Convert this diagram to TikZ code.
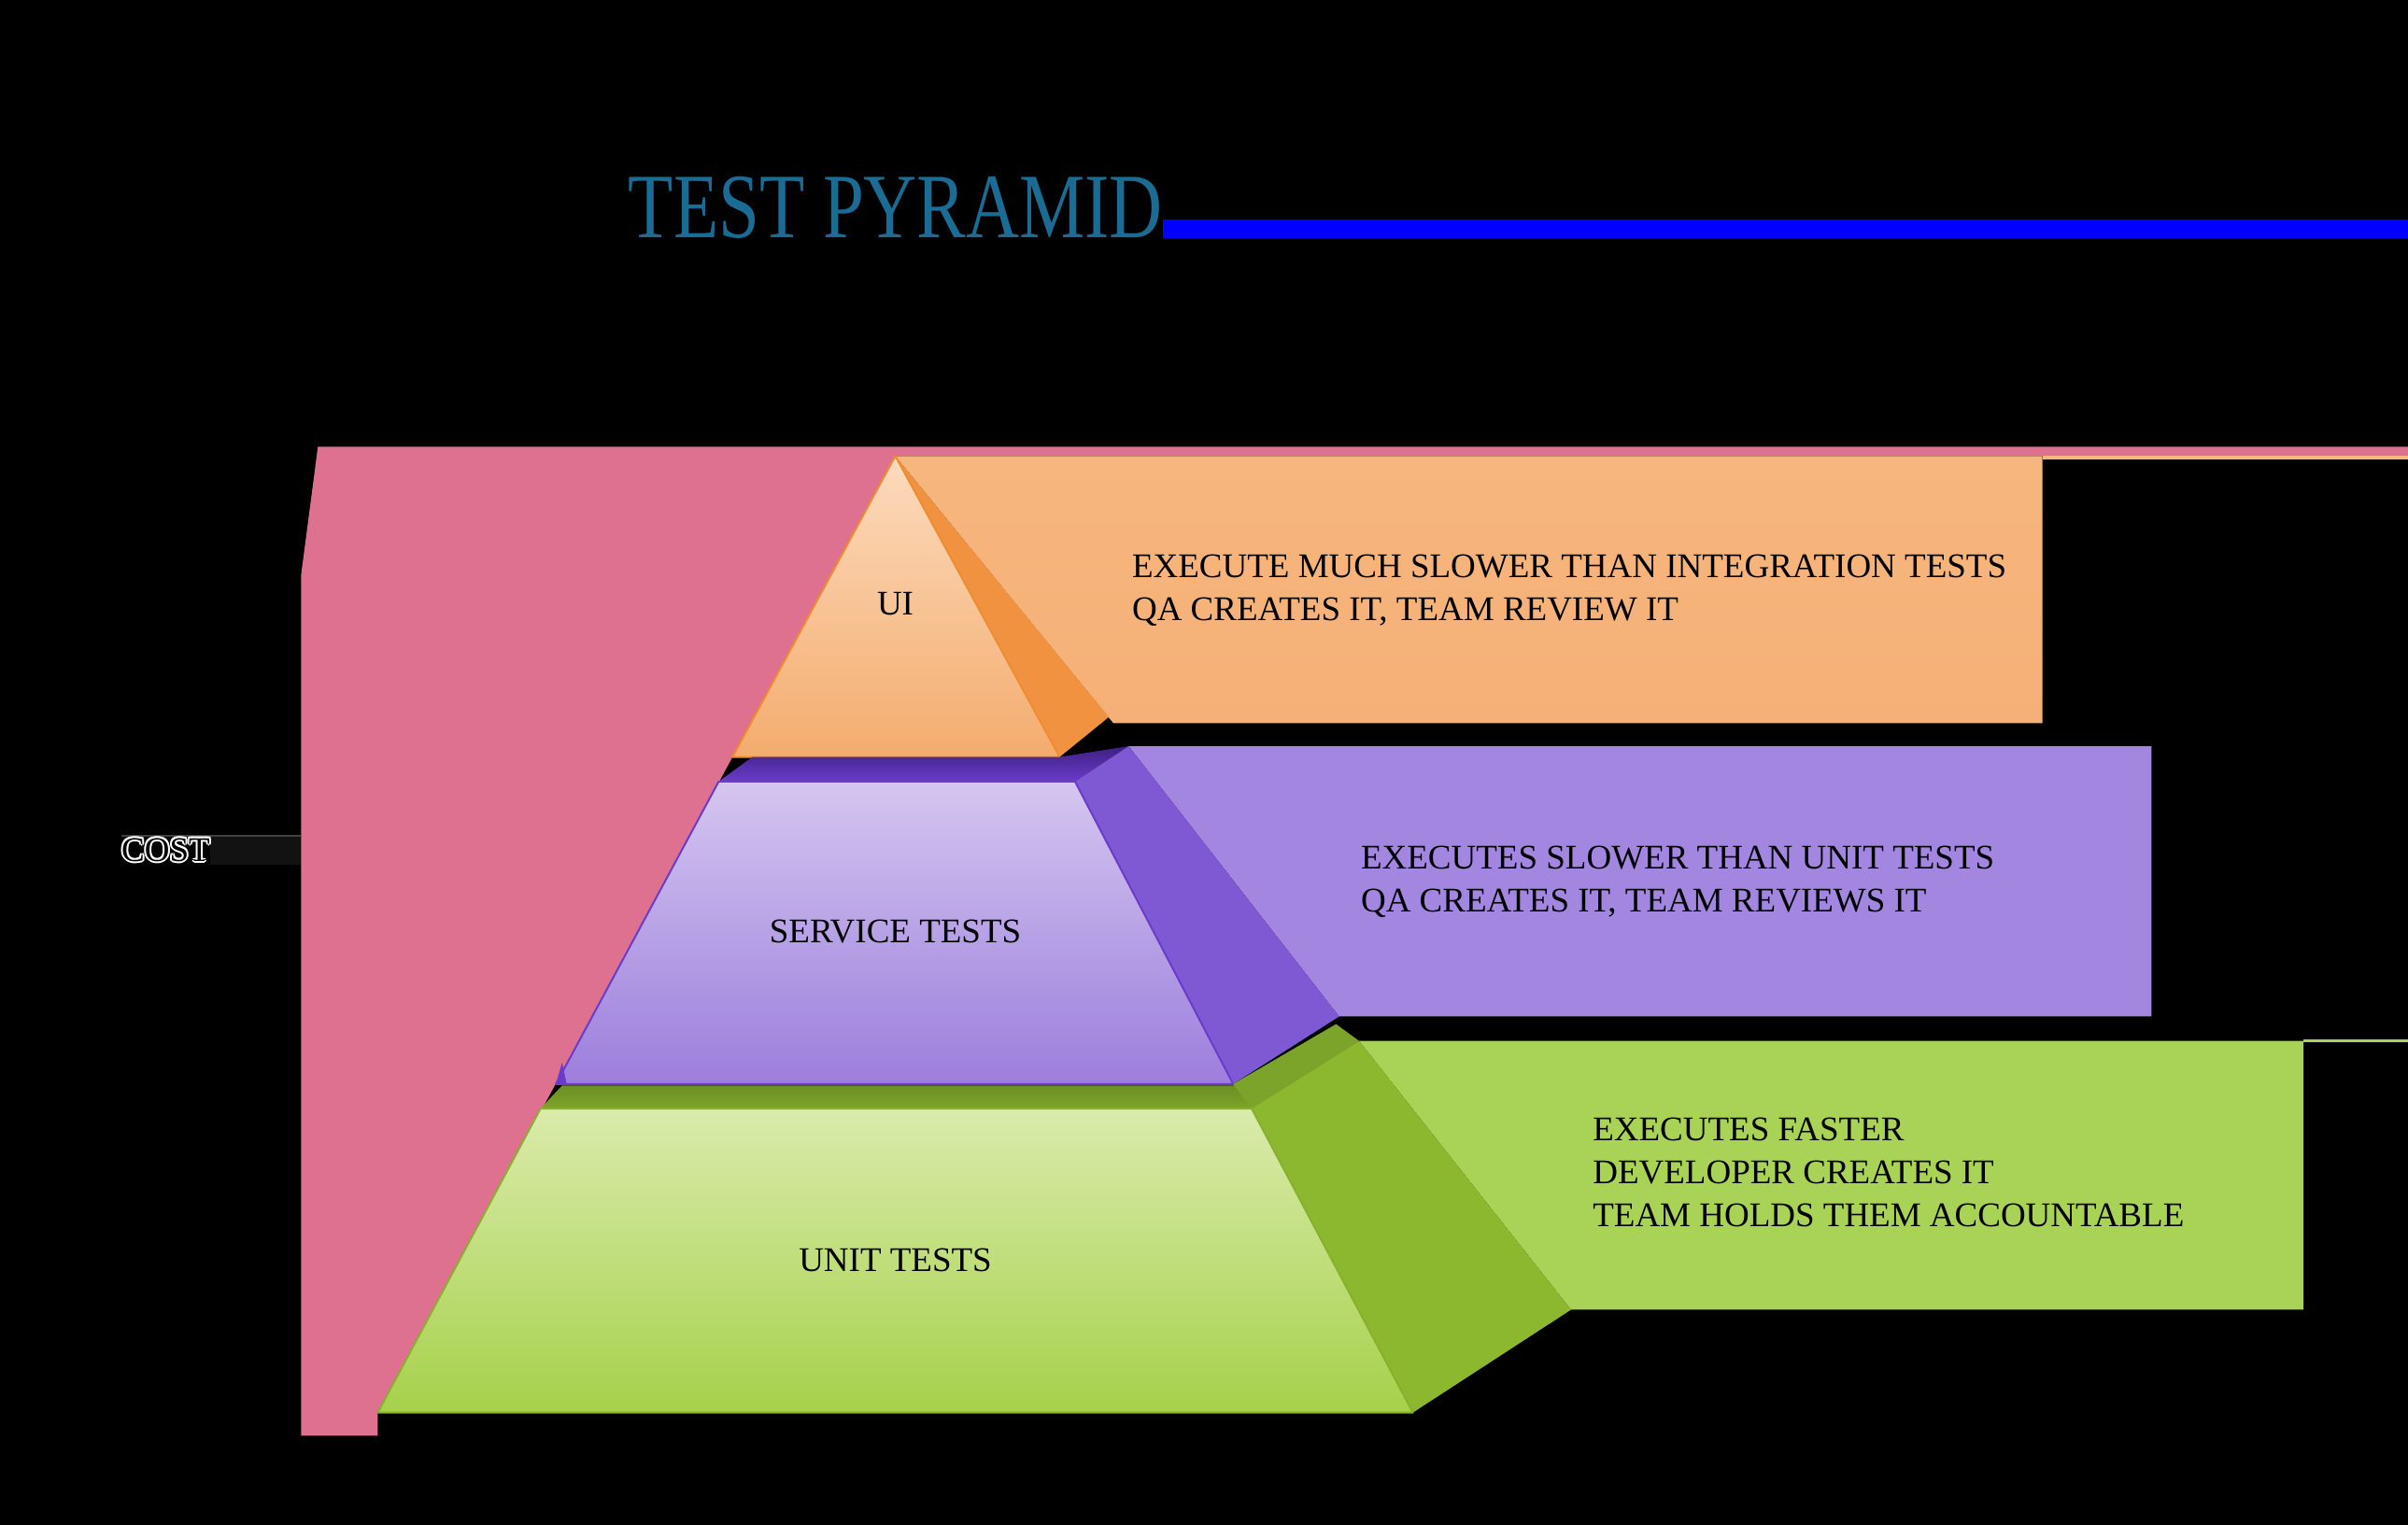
\documentclass[tikz,border=0pt]{standalone}
\usepackage{fontspec}
\setmainfont{Liberation Serif}
\definecolor{bg}{HTML}{000000}
\definecolor{pinkc}{HTML}{DE7090}
\definecolor{titlec}{HTML}{1B6C94}
\definecolor{barc}{HTML}{0000FF}
\definecolor{orbox}{HTML}{F5B077}
\definecolor{orboxt}{HTML}{F6B67E}
\definecolor{orfrontt}{HTML}{FCDBBD}
\definecolor{orfrontb}{HTML}{F4AC6E}
\definecolor{orside}{HTML}{F09240}
\definecolor{orline}{HTML}{F08C30}
\definecolor{pubox}{HTML}{A286E0}
\definecolor{pufrontt}{HTML}{D4C6F0}
\definecolor{pufrontb}{HTML}{9C7EDC}
\definecolor{puside}{HTML}{7F58D3}
\definecolor{putop}{HTML}{6A3BCB}
\definecolor{putopd}{HTML}{3E2080}
\definecolor{grbox}{HTML}{A9D356}
\definecolor{grfrontt}{HTML}{DAEBAC}
\definecolor{grfrontb}{HTML}{A6D14A}
\definecolor{grside}{HTML}{8BB82E}
\definecolor{grtop}{HTML}{7DA42A}
\definecolor{grtopd}{HTML}{4C6716}
\definecolor{grline}{HTML}{88B02E}
\tikzset{
  txt/.style={font=\fontsize{22.5}{27}\selectfont, text=black, inner sep=0pt},
  ltxt/.style={txt, anchor=base west},
  halo/.style={txt, anchor=base west, text=white},
}
\begin{document}
\begin{tikzpicture}[x=1pt,y=-1pt]
\useasboundingbox (0,0) rectangle (1568,993);
\fill[bg] (0,0) rectangle (1568,993);

% title
\node[anchor=base west, inner sep=0pt, text=titlec, font=\fontsize{60}{60}\selectfont] (title) at (409,155) {\scalebox{0.8}[1]{TEST PYRAMID}};
\fill[barc] (757,143) rectangle (1568,155);

% pink cost shape
\fill[pinkc] (207,291) -- (1568,291) -- (1568,297) -- (583,297) -- (246,920) -- (246,935) -- (196,935) -- (196,375) -- cycle;

% cost label
\fill[black!93] (137,545) rectangle (196,563);
\draw[black!75, line width=1pt] (79,544.5) -- (196,544.5);
\foreach \dx/\dy in {-1.2/0,1.2/0,0/-1.2,0/1.2,-0.9/-0.9,0.9/0.9,-0.9/0.9,0.9/-0.9}
  \node[halo] at (79+\dx,561+\dy) {COST};
\node[ltxt] (cost) at (79,561) {COST};

% thin lines at right
\fill[orboxt] (1330,297) rectangle (1568,299.5);
\draw[grbox, line width=2pt] (1500,678) -- (1568,678);

% ===== orange tier =====
\shade[top color=orboxt, bottom color=orbox] (583,297) -- (1330,297) -- (1330,471) -- (725,471) -- cycle;
\fill[orside] (583,297) -- (722,467) -- (690,493) -- cycle;
\shadedraw[top color=orfrontt, bottom color=orfrontb, draw=orline, line width=1.2pt, line join=round] (583,297) -- (690,493) -- (477,493) -- cycle;
\node[txt] (ui) at (583,393) {UI};
\node[ltxt] (o1) at (737,376) {EXECUTE MUCH SLOWER THAN INTEGRATION TESTS};
\node[ltxt] (o2) at (737,404) {QA CREATES IT, TEAM REVIEW IT};

% ===== purple tier =====
\fill[pubox] (735,486) -- (1401,486) -- (1401,662) -- (872,662) -- cycle;
\shade[top color=putopd, bottom color=putop] (468,509) -- (490,493) -- (690,493) -- (735,486) -- (700,509) -- cycle;
\fill[puside] (700,509) -- (735,486) -- (872,662) -- (803,706) -- cycle;
\shadedraw[top color=pufrontt, bottom color=pufrontb, draw=putop, line width=1.2pt, line join=round] (468,509) -- (700,509) -- (803,706) -- (362,706) -- cycle;
\fill[putop] (362,706) -- (366,692) -- (369,706) -- cycle;
\node[txt] (svc) at (583,607) {SERVICE TESTS};
\node[ltxt] (p1) at (886,566) {EXECUTES SLOWER THAN UNIT TESTS};
\node[ltxt] (p2) at (886,594) {QA CREATES IT, TEAM REVIEWS IT};

% ===== green tier =====
\fill[grbox] (885,678) -- (1500,678) -- (1500,853) -- (1023,853) -- cycle;
\shade[top color=grtopd, bottom color=grtop] (352,722) -- (366,707) -- (803,707) -- (885,678) -- (815,722) -- cycle;
\fill[grtop] (803,706) -- (870,667) -- (885,678) -- (815,722) -- cycle;
\fill[grside] (815,722) -- (885,678) -- (1023,853) -- (920,920) -- cycle;
\shadedraw[top color=grfrontt, bottom color=grfrontb, draw=grline, line width=1.2pt, line join=round] (352,722) -- (815,722) -- (920,920) -- (246,920) -- cycle;
\node[txt] (unit) at (583,821) {UNIT TESTS};
\node[ltxt] (g1) at (1037,743) {EXECUTES FASTER};
\node[ltxt] (g2) at (1037,771) {DEVELOPER CREATES IT};
\node[ltxt] (g3) at (1037,799) {TEAM HOLDS THEM ACCOUNTABLE};
\end{tikzpicture}
\end{document}
